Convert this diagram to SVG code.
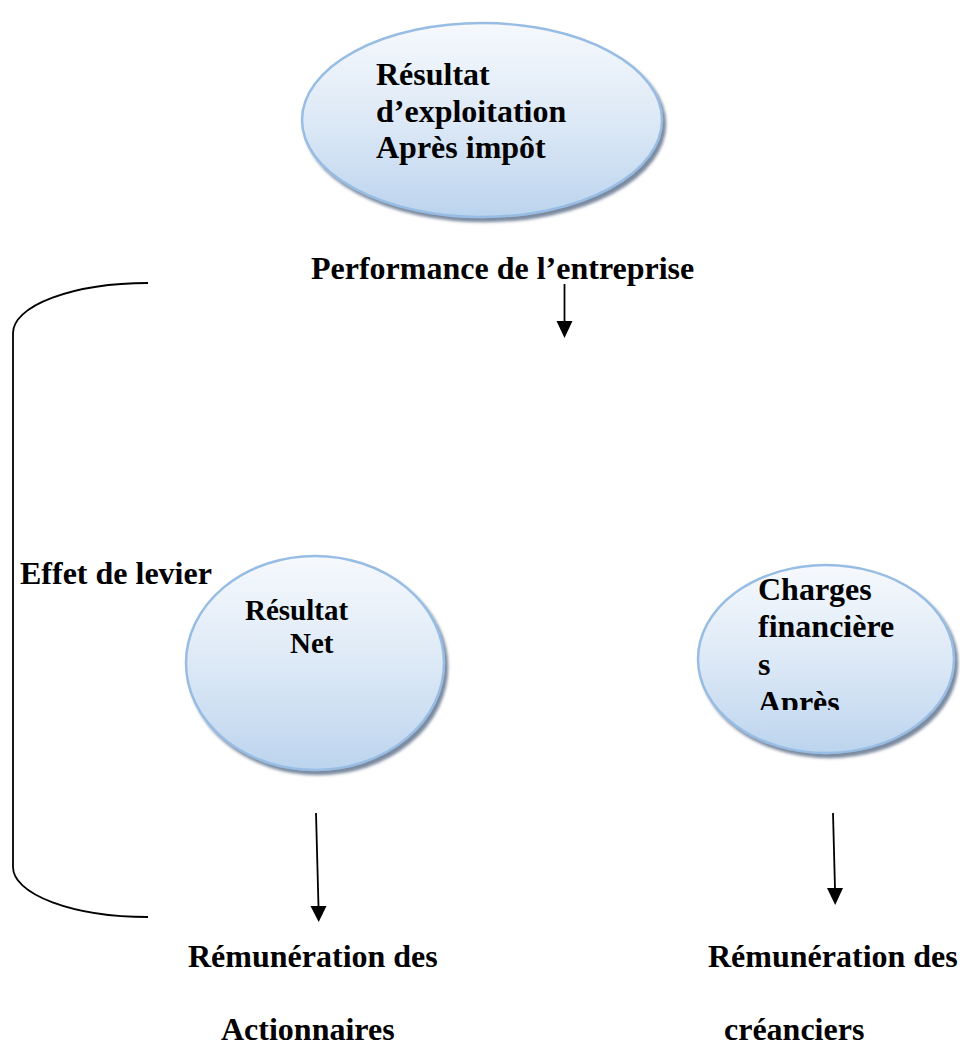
<svg xmlns="http://www.w3.org/2000/svg" width="960" height="1048" viewBox="0 0 960 1048">
  <style>
    .lbl { font-family: "Liberation Serif", "Times New Roman", serif; font-weight: bold; fill: #000; }
    .big { font-size: 32px; }
    .mid { font-size: 29px; }
    .bubble { fill: url(#bubbleFill); stroke: #98bde4; stroke-width: 2.5; filter: url(#bubbleShadow); }
    .wire { fill: none; stroke: #000; stroke-width: 1.8; }
  </style>
  <defs>
    <linearGradient id="bubbleFill" x1="0" y1="0" x2="0" y2="1">
      <stop offset="0" stop-color="#f6f9fd"/>
      <stop offset="0.5" stop-color="#dde9f6"/>
      <stop offset="1" stop-color="#bcd4ee"/>
    </linearGradient>
    <filter id="bubbleShadow" x="-10%" y="-10%" width="125%" height="130%">
      <feDropShadow dx="3" dy="4" stdDeviation="1.6" flood-color="#4f6480" flood-opacity="0.75"/>
    </filter>
    <clipPath id="chargesClip">
      <rect x="700" y="560" width="260" height="150"/>
    </clipPath>
  </defs>

  <!-- Top node -->
  <g id="node-resultat-exploitation">
    <ellipse class="bubble" cx="482" cy="120" rx="180" ry="97"/>
    <text class="lbl big" x="376" y="85">Résultat</text>
    <text class="lbl big" x="376" y="122">d’exploitation</text>
    <text class="lbl big" x="376" y="158">Après impôt</text>
  </g>

  <g id="label-performance">
    <text class="lbl big" x="311" y="279">Performance de l’entreprise</text>
  </g>

  <!-- Left node -->
  <g id="node-resultat-net">
    <ellipse class="bubble" cx="315" cy="663" rx="129" ry="107"/>
    <text class="lbl mid" x="245" y="620">Résultat</text>
    <text class="lbl mid" x="290" y="653">Net</text>
  </g>

  <!-- Right node; the last line is clipped by its text box -->
  <g id="node-charges-financieres">
    <ellipse class="bubble" cx="826" cy="659" rx="128" ry="94"/>
    <g clip-path="url(#chargesClip)">
      <text class="lbl big" x="758" y="600">Charges</text>
      <text class="lbl big" x="758" y="637">financière</text>
      <text class="lbl big" x="758" y="675">s</text>
      <text class="lbl big" x="758" y="713">Après</text>
    </g>
  </g>

  <g id="label-effet-levier">
    <text class="lbl big" x="20" y="584">Effet de levier</text>
  </g>

  <g id="label-actionnaires">
    <text class="lbl big" x="188" y="967">Rémunération des</text>
    <text class="lbl big" x="221" y="1040">Actionnaires</text>
  </g>

  <g id="label-creanciers">
    <text class="lbl big" x="708" y="967">Rémunération des</text>
    <text class="lbl big" x="724" y="1040">créanciers</text>
  </g>

  <!-- Connectors -->
  <g id="connectors">
    <path class="wire" d="M148,283 A135,50 0 0 0 13,333 L13,867 A135,50 0 0 0 148,917"/>
    <path d="M564.5,284 L564.5,322" class="wire"/>
    <path d="M556.5,321 L572.5,321 L564.5,338 Z" fill="#000"/>
    <path d="M316,813 L318.5,907" class="wire"/>
    <path d="M310.5,906 L326.5,906 L318.7,922 Z" fill="#000"/>
    <path d="M833,813 L835,889" class="wire"/>
    <path d="M827,888 L843,888 L835.2,905 Z" fill="#000"/>
  </g>
</svg>
